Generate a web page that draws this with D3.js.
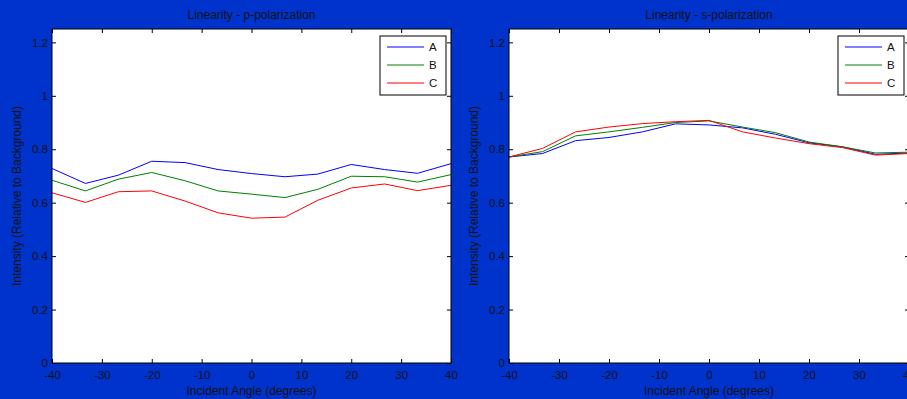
<!DOCTYPE html>
<html>
<head>
<meta charset="utf-8">
<script src="https://cdn.jsdelivr.net/npm/d3@7/dist/d3.min.js"></script>
<style>
  body { margin: 0; background: #0033cc; }
  svg { display: block; font-family: "Liberation Sans", Arial, sans-serif; }
  .tick text { font-size: 11.5px; fill: #111; }
</style>
</head>
<body>
<script>
  var width = 907;
  var height = 399;

  var angles = [-40, -33.3, -26.7, -20, -13.3, -6.7, 0, 6.7, 13.3, 20, 26.7, 33.3, 40];
  var seriesNames = ['A', 'B', 'C'];
  var seriesColors = ['#0000ff', '#008000', '#ff0000'];

  // p-polarization
  var pA = [0.728, 0.672, 0.703, 0.755, 0.750, 0.724, 0.709, 0.697, 0.707, 0.743, 0.724, 0.710, 0.746];
  var pB = [0.684, 0.644, 0.688, 0.713, 0.682, 0.644, 0.632, 0.619, 0.650, 0.699, 0.697, 0.677, 0.705];
  var pC = [0.637, 0.601, 0.641, 0.644, 0.606, 0.562, 0.542, 0.546, 0.609, 0.655, 0.670, 0.645, 0.665];

  // s-polarization
  var sA = [0.771, 0.784, 0.832, 0.844, 0.865, 0.895, 0.891, 0.880, 0.856, 0.824, 0.809, 0.781, 0.786];
  var sB = [0.771, 0.791, 0.850, 0.865, 0.882, 0.900, 0.906, 0.883, 0.862, 0.827, 0.809, 0.786, 0.789];
  var sC = [0.771, 0.803, 0.865, 0.883, 0.896, 0.903, 0.908, 0.865, 0.842, 0.821, 0.806, 0.778, 0.784];

  var xTicks = [-40, -30, -20, -10, 0, 10, 20, 30, 40];
  var yTicks = [0, 0.2, 0.4, 0.6, 0.8, 1, 1.2];

  var svg = d3.select("body")
    .append("svg")
    .attr("width", width)
    .attr("height", height);

  // plain hyphen for negatives, like matlab
  function fmt(d) { return String(d); }

  function drawPanel(left, right, title, data) {
    var top = 29, bottom = 363;

    var x = d3.scaleLinear().domain([-40, 40]).range([left, right]);
    var y = d3.scaleLinear().domain([0, 1.25]).range([bottom, top]);

    var g = svg.append("g");

    g.append("rect")
      .attr("x", left).attr("y", top)
      .attr("width", right - left).attr("height", bottom - top)
      .style("fill", "#fff");

    var line = d3.line()
      .x(function(d, i) { return x(angles[i]); })
      .y(function(d) { return y(d); });

    data.forEach(function(vals, k) {
      g.append("path")
        .datum(vals)
        .attr("d", line)
        .style("fill", "none")
        .style("stroke", seriesColors[k])
        .style("stroke-width", 1);
    });

    // axes, ticks pointing inward like matlab
    g.append("g")
      .attr("transform", "translate(0," + bottom + ")")
      .call(d3.axisBottom(x).tickValues(xTicks).tickSizeInner(-4).tickSizeOuter(0).tickPadding(8).tickFormat(fmt));
    g.append("g")
      .attr("transform", "translate(0," + top + ")")
      .call(d3.axisTop(x).tickValues(xTicks).tickSizeInner(-4).tickSizeOuter(0).tickFormat(""));
    g.append("g")
      .attr("transform", "translate(" + left + ",0)")
      .call(d3.axisLeft(y).tickValues(yTicks).tickSizeInner(-4).tickSizeOuter(0).tickPadding(4).tickFormat(fmt));
    g.append("g")
      .attr("transform", "translate(" + right + ",0)")
      .call(d3.axisRight(y).tickValues(yTicks).tickSizeInner(-4).tickSizeOuter(0).tickFormat(""));

    g.selectAll(".domain").remove();
    g.selectAll(".tick line").style("stroke", "#000");

    g.append("rect")
      .attr("x", left).attr("y", top)
      .attr("width", right - left).attr("height", bottom - top)
      .style("fill", "none")
      .style("stroke", "#000")
      .style("stroke-width", 1);

    var mid = (left + right) / 2;
    g.append("text")
      .attr("x", mid).attr("y", 19)
      .attr("text-anchor", "middle")
      .style("font-size", "12px").style("fill", "#111")
      .text(title);

    g.append("text")
      .attr("x", mid).attr("y", 395)
      .attr("text-anchor", "middle")
      .style("font-size", "12px").style("fill", "#111")
      .text("Incident Angle (degrees)");

    g.append("text")
      .attr("transform", "translate(" + (left - 31) + "," + ((top + bottom) / 2) + ") rotate(-90)")
      .attr("text-anchor", "middle")
      .style("font-size", "12px").style("fill", "#111")
      .text("Intensity (Relative to Background)");

    // legend
    var lx = right - 71, ly = 36;
    var key = g.append("g").attr("transform", "translate(" + lx + "," + ly + ")");
    key.append("rect")
      .attr("width", 66).attr("height", 59)
      .style("fill", "#fff").style("stroke", "#000").style("stroke-width", 1);
    seriesNames.forEach(function(name, k) {
      var yy = 11 + k * 18;
      key.append("line")
        .attr("x1", 7).attr("x2", 44)
        .attr("y1", yy).attr("y2", yy)
        .style("stroke", seriesColors[k]).style("stroke-width", 1);
      key.append("text")
        .attr("x", 49).attr("y", yy + 4)
        .style("font-size", "11.5px").style("fill", "#111")
        .text(name);
    });
  }

  drawPanel(52, 451, "Linearity - p-polarization", [pA, pB, pC]);
  drawPanel(509, 909, "Linearity - s-polarization", [sA, sB, sC]);
</script>
</body>
</html>
